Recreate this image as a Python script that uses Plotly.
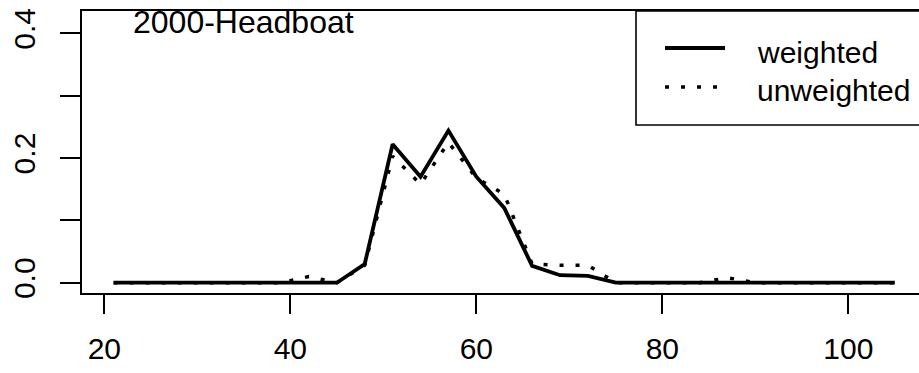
import plotly.graph_objects as go

# ---- data ----
lengths = [21, 24, 27, 30, 33, 36, 39, 42, 45, 48, 51, 54, 57, 60, 63, 66, 69, 72,
           75, 78, 81, 84, 87, 90, 93, 96, 99, 102, 105]
weighted = [0, 0, 0, 0, 0, 0, 0, 0, 0, 0.030, 0.222, 0.170, 0.244, 0.170, 0.120,
            0.027, 0.012, 0.011, 0, 0, 0, 0, 0, 0, 0, 0, 0, 0, 0]
unweighted = [0, 0, 0, 0, 0, 0, 0, 0.010, 0, 0.028, 0.203, 0.158, 0.225, 0.168, 0.142,
              0.030, 0.028, 0.028, 0, 0, 0, 0, 0.008, 0, 0, 0, 0, 0, 0]
series_names = ["weighted", "unweighted"]
panel_label = "2000-Headboat"
x_ticks = [20, 40, 60, 80, 100]
y_ticks = [0.0, 0.1, 0.2, 0.3, 0.4]
y_ticktext = ["0.0", "", "0.2", "", "0.4"]

W, H = 919, 373
ML, MR, MT, MB = 82, 0, 11, 80
FONT = "Liberation Sans, Arial, sans-serif"


def px_x(p):
    return (p - ML) / (W - ML - MR)


def px_y(p):
    return (H - MB - p) / (H - MT - MB)


fig = go.Figure()
fig.add_trace(go.Scatter(x=lengths, y=weighted, mode="lines", name=series_names[0],
                         line=dict(color="black", width=3.8), showlegend=False))
fig.add_trace(go.Scatter(x=lengths, y=unweighted, mode="lines", name=series_names[1],
                         line=dict(color="black", width=3.5, dash="4px,12px"),
                         showlegend=False))

fig.update_layout(
    width=W, height=H,
    margin=dict(l=ML, r=MR, t=MT, b=MB, pad=0),
    paper_bgcolor="white", plot_bgcolor="white",
    font=dict(family=FONT, size=30, color="black"),
    showlegend=False,
)
fig.update_xaxes(range=[17.6, 107.6], tickvals=x_ticks, ticks="outside", ticklen=19,
                 tickwidth=1.6, tickcolor="black", showgrid=False, zeroline=False,
                 showline=True, linecolor="black", linewidth=1.6, mirror=True,
                 ticklabelstandoff=9, tickfont=dict(size=30, family=FONT))
fig.update_yaxes(range=[-0.0165, 0.4358], tickvals=y_ticks, ticktext=y_ticktext,
                 ticks="outside", ticklen=20, tickwidth=1.6, tickcolor="black",
                 showgrid=False, zeroline=False, showline=True, linecolor="black",
                 linewidth=1.6, mirror=False, tickangle=-90, ticklabelstandoff=13,
                 tickfont=dict(size=30, family=FONT))

# legend box (drawn like R's legend, extending past the right edge)
fig.add_shape(type="rect", xref="paper", yref="paper",
              x0=px_x(636), x1=px_x(940), y0=px_y(125), y1=px_y(MT),
              line=dict(color="black", width=1.6), fillcolor="white", layer="below")
for i, (name, dash, ly) in enumerate([(series_names[0], "solid", 48),
                                       (series_names[1], "4px,12px", 87)]):
    fig.add_shape(type="line", xref="paper", yref="paper",
                  x0=px_x(665), x1=px_x(725), y0=px_y(ly), y1=px_y(ly),
                  line=dict(color="black", width=3.8 if dash == "solid" else 3.5,
                            dash=dash))
    fig.add_annotation(xref="paper", yref="paper", x=px_x(755), y=px_y(ly + 4),
                       text=name, showarrow=False, xanchor="left", yanchor="middle",
                       font=dict(size=30, family=FONT, color="black"))

fig.add_annotation(xref="paper", yref="paper", x=px_x(131), y=px_y(22.5),
                   text=panel_label, showarrow=False, xanchor="left", yanchor="middle",
                   font=dict(size=32, family=FONT, color="black"))

fig.write_html("out.html")
